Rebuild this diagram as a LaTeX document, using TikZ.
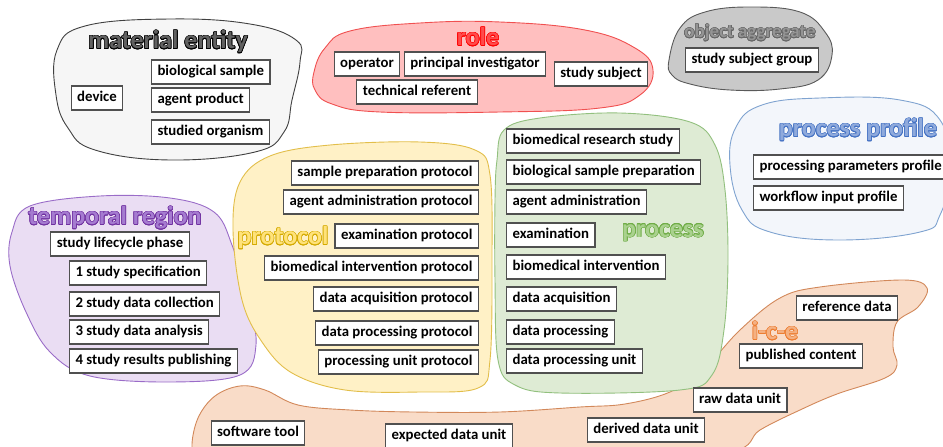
\documentclass[tikz,border=0pt]{standalone}
\usepackage{fontspec}
\setmainfont{Carlito}
\usepackage{contour}
\contourlength{0.6pt}
\definecolor{boxline}{HTML}{505050}
\definecolor{meFill}{HTML}{F6F6F6}\definecolor{meLine}{HTML}{404040}
\definecolor{roFill}{HTML}{FFBFBF}\definecolor{roLine}{HTML}{F05050}
\definecolor{oaFill}{HTML}{C9C9C9}\definecolor{oaLine}{HTML}{5A5A5A}
\definecolor{ppFill}{HTML}{F3F6FB}\definecolor{ppLine}{HTML}{7FA3D0}
\definecolor{trFill}{HTML}{EADDF3}\definecolor{trLine}{HTML}{9A6CC8}
\definecolor{prFill}{HTML}{FFF1C6}\definecolor{prLine}{HTML}{E2BE4A}
\definecolor{pcFill}{HTML}{DEEBD4}\definecolor{pcLine}{HTML}{92C07E}
\definecolor{icFill}{HTML}{F9DCC8}\definecolor{icLine}{HTML}{D2885A}
\definecolor{ppT}{HTML}{4472C4}\definecolor{ppTf}{HTML}{8FAADC}
\definecolor{trT}{HTML}{7030A0}\definecolor{trTf}{HTML}{A57BD0}
\definecolor{prT}{HTML}{D4AA00}\definecolor{prTf}{HTML}{FFE27A}
\definecolor{pcT}{HTML}{70AD47}\definecolor{pcTf}{HTML}{A9D18E}
\definecolor{icT}{HTML}{ED7D31}\definecolor{icTf}{HTML}{F4B183}
\newcommand\ttlx[3]{\contour{#1}{\textcolor{#2}{#3}}}
\tikzset{
  entbox/.style={draw=boxline, line width=1.1pt, fill=white, inner xsep=6pt, inner ysep=0pt,
    minimum height=24pt, text height=10.7pt, text depth=3.3pt,
    font=\fontsize{14.8}{16}\selectfont\bfseries},
  blob/.style={line width=0.9pt},
  ttl/.style={font=\fontsize{26}{28}\selectfont\bfseries, inner sep=0pt},
  ttlsmall/.style={font=\fontsize{19}{21}\selectfont\bfseries, inner sep=0pt}
}
\begin{document}
\begin{tikzpicture}[x=1pt,y=-1pt]
\useasboundingbox (0,0) rectangle (943,447);
% blobs
\draw[blob, fill=icFill, draw=icLine] plot[smooth cycle, tension=0.6] coordinates {
 (192,447) (198,418) (215,396) (240,386) (265,390) (298,405) (350,410) (413,412) (500,412)
 (580,407) (625,404) (670,392) (703,370) (740,330) (780,298) (820,287) (903,280) (927,288)
 (918,307) (897,322) (893,347) (897,365) (885,378) (837,394) (800,410) (760,430) (730,452)
 (600,462) (400,462) (200,462)};
\draw[blob, fill=meFill, draw=meLine] plot[smooth cycle, tension=0.7] coordinates {
 (57,50) (85,26) (170,19) (250,24) (296,40) (300,62) (292,100) (284,132) (255,152) (170,160)
 (95,150) (68,128) (56,95)};
\draw[blob, fill=roFill, draw=roLine] plot[smooth cycle, tension=0.7] coordinates {
 (314,72) (325,48) (350,31) (420,23) (500,22) (585,30) (635,48) (653,70) (640,95) (600,108)
 (500,112) (380,112) (332,104) (315,90)};
\draw[blob, fill=oaFill, draw=oaLine] plot[smooth cycle, tension=0.7] coordinates {
 (669,60) (680,28) (705,12) (750,7) (800,12) (825,32) (832,55) (818,80) (780,89) (730,90)
 (690,84) (672,75)};
\draw[blob, fill=ppFill, draw=ppLine] plot[smooth cycle, tension=0.7] coordinates {
 (730,165) (736,127) (762,105) (820,98) (900,100) (940,120) (950,170) (940,215) (920,232)
 (840,240) (770,232) (742,210)};
\draw[blob, fill=trFill, draw=trLine] plot[smooth cycle, tension=0.6] coordinates {
 (12,232) (30,206) (100,196) (170,198) (214,212) (232,245) (248,300) (256,345) (240,375)
 (170,382) (90,376) (50,352) (26,312) (10,266)};
\draw[blob, fill=prFill, draw=prLine] plot[smooth cycle, tension=0.6] coordinates {
 (233,230) (240,182) (270,156) (330,145) (420,142) (475,150) (490,175) (492,260) (490,360)
 (478,388) (420,392) (345,390) (292,373) (262,342) (242,300)};
\draw[blob, fill=pcFill, draw=pcLine] plot[smooth cycle, tension=0.6] coordinates {
 (497,160) (504,130) (540,118) (620,113) (690,122) (715,145) (725,190) (728,260) (724,330)
 (712,375) (680,390) (560,393) (515,385) (498,360) (495,280) (495,200)};
% titles
\node[ttl] (tme) at (168,42) {\ttlx{black}{black!62}{material entity}};
\node[ttl] (tro) at (478,37) {\ttlx{red}{red!70}{role}};
\node[ttlsmall] (toa) at (750,33) {\ttlx{black!60}{black!42}{object aggregate}};
\node[ttl] (tpp) at (858,130) {\ttlx{ppT}{ppTf}{process profile}};
\node[ttl] (ttr) at (115,218) {\ttlx{trT}{trTf}{temporal region}};
\node[ttl] (tpr) at (283,238) {\ttlx{prT}{prTf}{protocol}};
\node[ttl] (tpc) at (663,233) {\ttlx{pcT}{pcTf}{process}};
\node[ttl] (tic) at (775,331) {\ttlx{icT}{icTf}{i-c-e}};
% material entity
\node[entbox] (dev) at (97,98) {device};
\node[entbox, anchor=west] (bs) at (151,72) {biological sample};
\node[entbox, anchor=west] (ap) at (151,100) {agent product};
\node[entbox, anchor=west] (so) at (151,132) {studied organism};
% role
\node[entbox] (op) at (367,64) {operator};
\node[entbox] (pi) at (475,64) {principal investigator};
\node[entbox] (ss) at (601,74) {study subject};
\node[entbox] (tr) at (417,92) {technical referent};
% object aggregate
\node[entbox] (ssg) at (752,60) {study subject group};
% process profile
\node[entbox, anchor=west] (ppp) at (753,167) {processing parameters profile};
\node[entbox, anchor=west] (wip) at (753,198) {workflow input profile};
% temporal region
\node[entbox] (slp) at (120,244) {study lifecycle phase};
\node[entbox, anchor=west] (t1) at (69,273) {1 study specification};
\node[entbox, anchor=west] (t2) at (69,304) {2 study data collection};
\node[entbox, anchor=west] (t3) at (69,332) {3 study data analysis};
\node[entbox, anchor=west] (t4) at (69,361) {4 study results publishing};
% protocol
\node[entbox, anchor=east] (p1) at (479,173) {sample preparation protocol};
\node[entbox, anchor=east] (p2) at (479,202) {agent administration protocol};
\node[entbox, anchor=east] (p3) at (479,236) {examination protocol};
\node[entbox, anchor=east] (p4) at (479,268) {biomedical intervention protocol};
\node[entbox, anchor=east] (p5) at (479,299) {data acquisition protocol};
\node[entbox, anchor=east] (p6) at (479,333) {data processing protocol};
\node[entbox, anchor=east] (p7) at (479,362) {processing unit protocol};
% process
\node[entbox, anchor=west] (q1) at (506,141) {biomedical research study};
\node[entbox, anchor=west] (q2) at (506,172) {biological sample preparation};
\node[entbox, anchor=west] (q3) at (506,202) {agent administration};
\node[entbox, anchor=west] (q4) at (506,235) {examination};
\node[entbox, anchor=west] (q5) at (506,267) {biomedical intervention};
\node[entbox, anchor=west] (q6) at (506,299) {data acquisition};
\node[entbox, anchor=west] (q7) at (506,332) {data processing};
\node[entbox, anchor=west] (q8) at (506,361) {data processing unit};
% ice
\node[entbox] (rd) at (847,308) {reference data};
\node[entbox] (pc) at (801,356) {published content};
\node[entbox] (rdu) at (740,400) {raw data unit};
\node[entbox] (ddu) at (646,430) {derived data unit};
\node[entbox] (edu) at (449,436) {expected data unit};
\node[entbox] (st) at (258,433) {software tool};
\end{tikzpicture}
\end{document}
